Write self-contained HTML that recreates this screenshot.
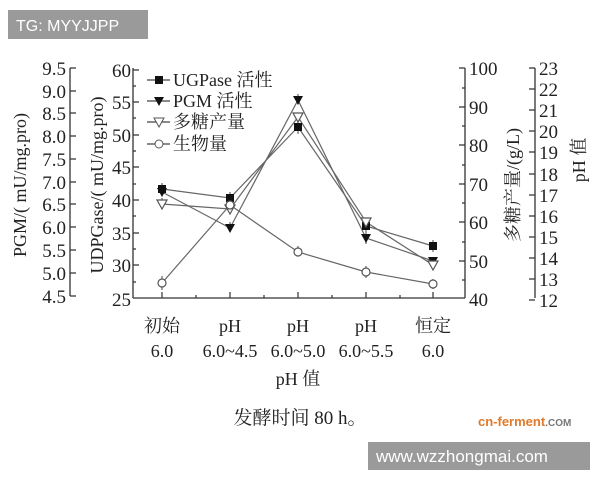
<!DOCTYPE html>
<html><head><meta charset="utf-8"><style>
body{margin:0;background:#fff;}
svg{display:block;font-family:"Liberation Serif","Noto Serif CJK SC",serif;}
</style></head><body>
<svg width="600" height="480" viewBox="0 0 600 480" xmlns="http://www.w3.org/2000/svg">
<rect width="600" height="480" fill="#fff"/>
<rect x="8" y="10" width="140" height="29" fill="#9a9a9a"/>
<text x="16" y="31" font-family="Liberation Sans,sans-serif" font-size="16" fill="#fff">TG: MYYJJPP</text>

<g stroke="#333" stroke-width="1.3" fill="none">
<line x1="70" y1="68" x2="70" y2="296"/>
<line x1="133" y1="68" x2="133" y2="298"/>
<line x1="133" y1="298" x2="465" y2="298"/>
<line x1="465" y1="68" x2="465" y2="298"/>
<line x1="535" y1="68" x2="535" y2="298"/>
</g>
<g stroke="#333" stroke-width="1.2">
<path d="M70 68h6M70 91h6M70 113h6M70 136h6M70 159h6M70 182h6M70 204h6M70 227h6M70 250h6M70 273h6M70 296h6"/>
<path d="M133 70h6M133 102h6M133 135h6M133 167h6M133 200h6M133 233h6M133 265h6M133 86h3M133 118h3M133 151h3M133 184h3M133 216h3M133 249h3M133 282h3"/>
<path d="M465 68h-6M465 107h-6M465 145h-6M465 184h-6M465 222h-6M465 261h-6M465 88h-3M465 126h-3M465 165h-3M465 203h-3M465 242h-3M465 280h-3"/>
<path d="M535 68h-6M535 89h-6M535 110h-6M535 131h-6M535 152h-6M535 174h-6M535 195h-6M535 216h-6M535 237h-6M535 258h-6M535 279h-6M535 300h-6"/>
<path d="M162 298v-6M230 298v-6M298 298v-6M366 298v-6M433 298v-6M196 298v-3M264 298v-3M332 298v-3M400 298v-3"/>
</g>
<g font-size="19" fill="#222" text-anchor="end">
<text x="66" y="75">9.5</text><text x="66" y="98">9.0</text><text x="66" y="120">8.5</text><text x="66" y="143">8.0</text><text x="66" y="166">7.5</text><text x="66" y="189">7.0</text><text x="66" y="211">6.5</text><text x="66" y="234">6.0</text><text x="66" y="257">5.5</text><text x="66" y="280">5.0</text><text x="66" y="303">4.5</text>
<text x="131" y="77">60</text><text x="131" y="109">55</text><text x="131" y="142">50</text><text x="131" y="174">45</text><text x="131" y="207">40</text><text x="131" y="240">35</text><text x="131" y="272">30</text><text x="131" y="306">25</text>
</g>
<g font-size="19" fill="#222">
<text x="469" y="75">100</text><text x="469" y="114">90</text><text x="469" y="152">80</text><text x="469" y="191">70</text><text x="469" y="229">60</text><text x="469" y="268">50</text><text x="469" y="306">40</text>
<text x="539" y="75">23</text><text x="539" y="96">22</text><text x="539" y="117">21</text><text x="539" y="138">20</text><text x="539" y="159">19</text><text x="539" y="181">18</text><text x="539" y="202">17</text><text x="539" y="223">16</text><text x="539" y="244">15</text><text x="539" y="265">14</text><text x="539" y="286">13</text><text x="539" y="307">12</text>
</g>
<g font-size="18" fill="#222" text-anchor="middle">
<text transform="translate(26,185) rotate(-90)">PGM/( mU/mg.pro)</text>
<text transform="translate(103,185) rotate(-90)">UDPGase/( mU/mg.pro)</text>
<text transform="translate(519,185) rotate(-90)">多糖产量/(g/L)</text>
<text transform="translate(585,160) rotate(-90)">pH 值</text>
<text x="162" y="332">初始</text><text x="162" y="357">6.0</text>
<text x="230" y="332">pH</text><text x="230" y="357">6.0~4.5</text>
<text x="298" y="332">pH</text><text x="298" y="357">6.0~5.0</text>
<text x="366" y="332">pH</text><text x="366" y="357">6.0~5.5</text>
<text x="433" y="332">恒定</text><text x="433" y="357">6.0</text>
<text x="298" y="385">pH 值</text>
<text x="300" y="424" font-size="19">发酵时间 80 h。</text>
</g>
<g stroke="#666" stroke-width="1.2" fill="none">
<polyline points="162,189 230,198 298,127 366,226 433,246"/>
<polyline points="162,192 230,228 298,100 366,238 433,261"/>
<polyline points="162,204 230,209 298,117 366,222 433,265"/>
<polyline points="162,283 230,205 298,252 366,272 433,284"/>
<path d="M162,183v12M230,192v12M298,120v14M366,218v16M433,240v12M162,276v14M298,246v10M366,266v12M433,279v10M298,94v10M230,222v10M162,198v10M366,232v12"/>
</g>
<g fill="#111">
<rect x="158" y="185" width="8" height="8"/><rect x="226" y="194" width="8" height="8"/><rect x="294" y="123" width="8" height="8"/><rect x="362" y="222" width="8" height="8"/><rect x="429" y="242" width="8" height="8"/>
<path d="M157,188h10l-5,9zM225,224h10l-5,9zM293,96h10l-5,9zM361,234h10l-5,9zM428,257h10l-5,9z"/>
</g>
<g fill="#fff" stroke="#555" stroke-width="1.2">
<path d="M157,200h10l-5,9zM225,205h10l-5,9zM293,113h10l-5,9zM361,218h10l-5,9zM428,261h10l-5,9z"/>
<circle cx="162" cy="283" r="4"/><circle cx="230" cy="205" r="4"/><circle cx="298" cy="252" r="4"/><circle cx="366" cy="272" r="4"/><circle cx="433" cy="284" r="4"/>
</g>
<g stroke="#444" stroke-width="1.2">
<line x1="147" y1="80" x2="170" y2="80"/><line x1="147" y1="101" x2="170" y2="101"/><line x1="147" y1="122" x2="170" y2="122"/><line x1="147" y1="144" x2="170" y2="144"/>
</g>
<rect x="155" y="76" width="8" height="8" fill="#111"/>
<path d="M154,97h10l-5,9z" fill="#111"/>
<path d="M154,118h10l-5,9z" fill="#fff" stroke="#555"/>
<circle cx="159" cy="144" r="4" fill="#fff" stroke="#555"/>
<g font-size="18" fill="#222">
<text x="173" y="86">UGPase 活性</text><text x="173" y="107">PGM 活性</text><text x="173" y="128">多糖产量</text><text x="173" y="150">生物量</text>
</g>
<text x="478" y="426" font-family="Liberation Sans,sans-serif" font-size="13" font-weight="bold" fill="#e07a2a">cn-ferment<tspan fill="#777" font-size="10">.COM</tspan></text>
<rect x="368" y="442" width="222" height="28" fill="#9a9a9a"/>
<text x="376" y="462" font-family="Liberation Sans,sans-serif" font-size="17" fill="#fff">www.wzzhongmai.com</text>
</svg>
</body></html>
